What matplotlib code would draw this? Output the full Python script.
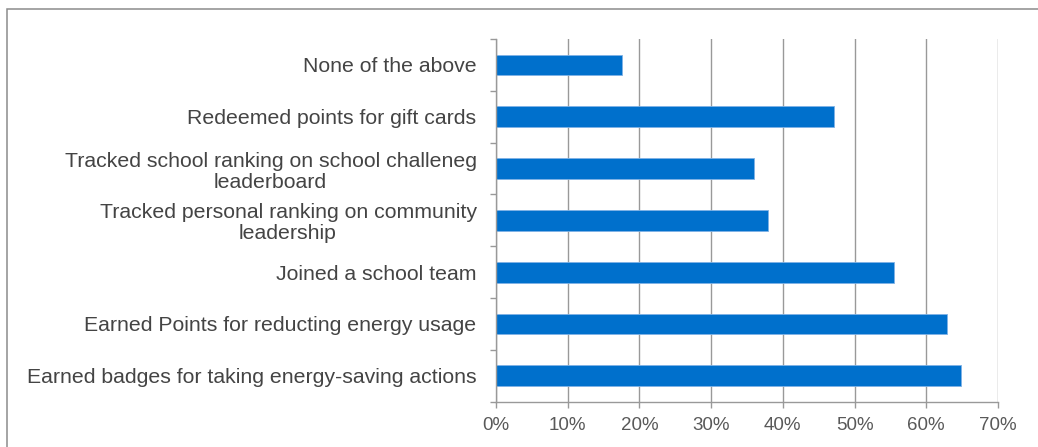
import matplotlib
matplotlib.use("Agg")
import matplotlib.pyplot as plt
from matplotlib.patches import Rectangle
from matplotlib.ticker import FixedLocator, PercentFormatter, NullFormatter

# Survey responses (share of respondents), listed bottom to top
categories = [
    "Earned badges for taking energy-saving actions",
    "Earned Points for reducting energy usage",
    "Joined a school team",
    "Tracked personal ranking on community\nleadership",
    "Tracked school ranking on school challeneg\nleaderboard",
    "Redeemed points for gift cards",
    "None of the above",
]
values = [64.8, 62.9, 55.5, 37.9, 36.0, 47.2, 17.6]
x_ticks = [0, 10, 20, 30, 40, 50, 60, 70]

plt.rcParams["font.family"] = ["Liberation Sans", "DejaVu Sans"]

W, H = 1038, 447
fig = plt.figure(figsize=(W / 100, H / 100), dpi=100)
fig.patch.set_facecolor("white")

ax = fig.add_axes([496 / W, 1 - 401.7 / H, (998 - 496) / W, (401.7 - 39) / H])

grid_col = "#999999"
ypos = list(range(len(categories)))
ax.barh(ypos, values, height=0.4, color="#0070CC",
        edgecolor="#7FB2E5", linewidth=0.6, zorder=3)

ax.set_xlim(0, 70)
ax.set_ylim(-0.5, len(categories) - 0.5)

ax.xaxis.set_major_locator(FixedLocator(x_ticks))
ax.xaxis.set_major_formatter(PercentFormatter(decimals=0))
ax.grid(axis="x", color=grid_col, linewidth=1.0, zorder=0)
ax.tick_params(axis="x", length=4, width=1.0, color=grid_col,
               labelsize=13.5, labelcolor="#595959", pad=7)

ax.set_yticks(ypos)
ax.set_yticklabels(categories, fontsize=15.3, color="#444444",
                   multialignment="center", linespacing=1.14)
ax.tick_params(axis="y", which="major", length=0, pad=14)
ax.yaxis.set_minor_locator(FixedLocator([i - 0.5 for i in range(len(categories) + 1)]))
ax.yaxis.set_minor_formatter(NullFormatter())
ax.tick_params(axis="y", which="minor", length=4.5, width=1.0, color=grid_col)

for side in ("top", "right"):
    ax.spines[side].set_visible(False)
for side in ("left", "bottom"):
    ax.spines[side].set_color(grid_col)
    ax.spines[side].set_linewidth(1.0)
    ax.spines[side].set_zorder(4)

# Outer frame, open on the right and bottom edges
fig.patches.append(Rectangle((7.3 / W, -0.5), 2.0, 1.5 - 9.3 / H,
                             transform=fig.transFigure, fill=False,
                             edgecolor="#8C8C8C", linewidth=1.1))

fig.savefig("out.png", dpi=100, facecolor="white")
